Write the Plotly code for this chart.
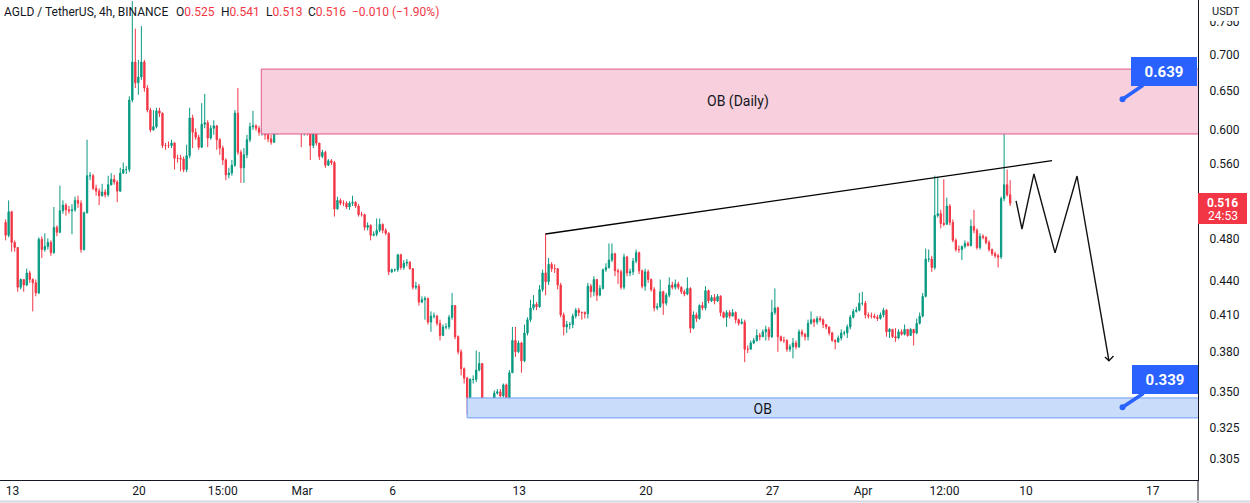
import numpy as np
import pandas as pd
import plotly.graph_objects as go

# ---------------- data (AGLD/USDT 4h) ----------------
first_open = 0.496
closes = [
    .483, .507, .476, .471, .434, .441, .436, .447, .441, .438,
    .429, .479, .469, .472, .476, .466, .491, .486, .508, .514,
    .509, .508, .509, .519, .516, .469, .506, .546, .546, .532,
    .529, .524, .528, .525, .536, .542, .539, .529, .549, .553,
    .553, .638, .690, .661, .669, .690, .654, .625, .600, .604,
    .624, .621, .581, .581, .581, .584, .566, .566, .565, .553,
    .569, .615, .597, .591, .579, .607, .609, .590, .602, .605,
    .588, .578, .564, .547, .549, .558, .621, .573, .555, .570,
    .588, .604, .605, .602, .597, .600, .594, .589, .585, .596,
    .604, .638, .647, .647, .645, .622, .619, .606, .597, .600,
    .596, .581, .595, .584,
    .568, .573, .558, .563, .561, .510, .519, .516, .516, .512,
    .516, .517, .513, .504, .504, .491, .493, .483, .484, .488,
    .494, .488, .485, .448, .450, .450, .464, .452, .456, .457,
    .451, .434, .435, .421, .423, .424, .404, .409, .409, .403,
    .393, .400, .400, .408, .418, .392, .380, .367, .360, .346,
    .359, .359, .366, .371, .342, .343, .334, .343, .349, .350,
    .347, .355, .346, .364, .389, .380, .387, .373, .395, .406,
    .416, .419, .417, .432, .447, .439, .455, .451, .451, .436,
    .410, .400, .402, .402, .409, .414, .412, .412, .411, .435,
    .430, .441, .427,
    .433, .450, .452, .459, .465, .449, .448, .434, .462, .447,
    .448, .458, .466, .449, .435, .448, .441, .432, .416, .417,
    .430, .420, .427, .436, .434, .437, .434, .430, .428, .433,
    .399, .410, .407, .418, .416, .431, .422, .425, .422, .426,
    .412, .408, .412, .409, .412, .406, .403, .404, .382, .382,
    .387, .389, .393, .392, .396, .398, .392, .412, .416, .392,
    .389, .389, .382, .384, .387, .384, .396, .394, .392, .403,
    .406, .404, .407, .406, .402, .400,
    .395, .389, .388, .391, .395, .395, .400, .408, .413, .414,
    .420, .420, .410, .409, .409, .408, .407, .410, .414, .396,
    .398, .392, .391, .396, .394, .398, .393, .398, .395, .403,
    .409, .426, .460, .460, .452, .503, .505, .495, .494, .513,
    .496, .478, .469, .469, .472, .475, .473, .492, .488, .471,
    .482, .481, .476, .469, .465, .463, .462, .521, .536, .525,
    .516,
]
highs = [
    .499, .519, .508, .478, .471, .442, .441, .451, .449, .442,
    .441, .481, .482, .485, .480, .478, .512, .493, .535, .519,
    .516, .513, .515, .523, .524, .519, .507, .588, .550, .548,
    .536, .532, .537, .531, .546, .549, .547, .541, .555, .561,
    .557, .643, .782, .739, .693, .743, .693, .658, .628, .625,
    .628, .628, .622, .584, .586, .588, .585, .570, .570, .568,
    .582, .628, .619, .602, .594, .634, .646, .612, .606, .612,
    .606, .590, .581, .566, .555, .564, .625, .654, .576, .578,
    .594, .609, .624, .607, .605, .604, .602, .596, .594, .600,
    .607, .645, .680, .654, .651, .645, .625, .622, .607, .602,
    .602, .599, .600, .597,
    .584, .576, .575, .565, .565, .563, .523, .521, .519, .518,
    .518, .524, .518, .515, .507, .505, .496, .494, .487, .500,
    .500, .495, .490, .486, .451, .451, .465, .465, .459, .460,
    .458, .451, .439, .437, .426, .426, .425, .413, .412, .410,
    .406, .402, .403, .410, .429, .418, .393, .382, .368, .361,
    .360, .362, .381, .380, .371, .344, .344, .344, .351, .352,
    .352, .356, .356, .366, .400, .400, .389, .388, .402, .408,
    .423, .427, .421, .436, .450, .485, .461, .457, .455, .451,
    .438, .412, .405, .404, .411, .416, .416, .413, .413, .438,
    .437, .444, .441,
    .436, .451, .456, .475, .475, .466, .451, .450, .465, .463,
    .451, .461, .469, .467, .450, .451, .450, .442, .434, .420,
    .441, .431, .429, .443, .439, .441, .439, .435, .432, .443,
    .434, .413, .412, .419, .421, .435, .432, .427, .428, .428,
    .427, .413, .414, .414, .415, .413, .407, .407, .406, .385,
    .389, .391, .398, .395, .398, .401, .400, .423, .433, .417,
    .393, .392, .390, .386, .391, .389, .398, .398, .395, .406,
    .413, .407, .409, .409, .407, .402,
    .400, .396, .390, .393, .398, .397, .402, .410, .415, .417,
    .429, .430, .422, .412, .412, .411, .410, .412, .416, .415,
    .399, .398, .399, .398, .398, .402, .398, .399, .398, .407,
    .412, .429, .470, .469, .463, .546, .545, .509, .542, .522,
    .515, .499, .480, .473, .473, .478, .477, .499, .509, .490,
    .485, .484, .482, .478, .470, .467, .465, .523, .599, .553,
    .541,
]
lows = [
    .478, .481, .467, .467, .430, .432, .430, .435, .438, .413,
    .426, .428, .461, .467, .469, .463, .465, .482, .485, .505,
    .503, .505, .484, .507, .511, .466, .468, .505, .541, .530,
    .524, .514, .523, .522, .523, .535, .536, .517, .528, .548,
    .548, .550, .635, .654, .645, .665, .649, .622, .597, .599,
    .602, .616, .578, .576, .578, .578, .553, .561, .551, .550,
    .550, .566, .578, .588, .576, .578, .602, .579, .588, .594,
    .576, .570, .558, .541, .543, .546, .556, .570, .538, .538,
    .566, .585, .600, .599, .593, .593, .588, .585, .582, .584,
    .594, .600, .638, .642, .635, .619, .615, .602, .579, .593,
    .593, .564, .578, .581,
    .564, .566, .555, .557, .558, .502, .509, .514, .513, .510,
    .509, .513, .511, .502, .502, .488, .488, .478, .482, .482,
    .486, .485, .483, .445, .447, .448, .448, .450, .450, .453,
    .450, .432, .432, .418, .420, .406, .402, .396, .407, .401,
    .389, .393, .398, .398, .406, .390, .378, .362, .356, .334,
    .346, .356, .357, .365, .341, .341, .332, .332, .341, .348,
    .346, .346, .344, .345, .364, .376, .379, .364, .372, .393,
    .404, .414, .414, .416, .430, .427, .436, .448, .447, .432,
    .408, .393, .395, .398, .399, .407, .409, .406, .407, .407,
    .425, .426, .422,
    .426, .432, .448, .451, .457, .444, .437, .432, .432, .444,
    .444, .445, .456, .446, .433, .431, .438, .430, .413, .414,
    .416, .410, .418, .425, .432, .432, .432, .428, .426, .427,
    .395, .398, .404, .406, .414, .414, .420, .421, .419, .421,
    .409, .407, .400, .407, .409, .403, .401, .402, .372, .379,
    .382, .386, .388, .389, .392, .389, .389, .391, .410, .380,
    .388, .387, .380, .380, .375, .382, .383, .392, .389, .389,
    .402, .400, .402, .404, .399, .398,
    .393, .388, .382, .387, .389, .393, .391, .398, .407, .412,
    .413, .418, .407, .407, .407, .407, .405, .406, .408, .392,
    .391, .391, .388, .390, .393, .393, .392, .393, .385, .394,
    .402, .408, .425, .457, .448, .450, .501, .490, .492, .494,
    .493, .476, .467, .466, .459, .470, .472, .472, .485, .469,
    .469, .479, .474, .467, .463, .461, .452, .460, .518, .523,
    .513,
]
opens = [first_open] + closes[:-1]
last_bar_time = "2023-04-09 03:00"

# order-block zones
ob_daily_start = "2023-02-26 18:00"
ob_daily_low, ob_daily_high = 0.595, 0.680
ob_start = "2023-03-10 03:00"
ob_low, ob_high = 0.3317, 0.3456
zone_end = "2023-04-25"

# trend line (rising resistance)
trend_times = ["2023-03-14 11:00", "2023-04-11 10:30"]
trend_prices = [0.4843, 0.5632]

# projected zigzag path
zig_times = ["2023-04-09 10:50", "2023-04-09 18:40", "2023-04-10 10:30",
             "2023-04-11 14:30", "2023-04-12 19:40", "2023-04-14 14:00"]
zig_prices = [0.5184, 0.4893, 0.5480, 0.4658, 0.5457, 0.3730]
arrow_times = ["2023-04-14 08:40", "2023-04-14 14:00", "2023-04-14 20:00"]
arrow_prices = [0.3760, 0.3730, 0.3768]

# price callouts
callout_time = "2023-04-15 08:00"
callout_prices = [0.639, 0.339]
callout_labels = ["0.639", "0.339"]

# axis ticks
tick_dates = ["2023-02-13", "2023-02-20", "2023-02-24 15:00", "2023-03-01",
              "2023-03-06", "2023-03-13", "2023-03-20", "2023-03-27",
              "2023-04-01", "2023-04-05 12:00", "2023-04-10", "2023-04-17"]
tick_text = ["13", "20", "15:00", "Mar", "6", "13", "20", "27", "Apr",
             "12:00", "10", "17"]
ytick_vals = [0.305, 0.325, 0.350, 0.380, 0.410, 0.440, 0.480, 0.560,
              0.600, 0.650, 0.700, 0.750]
ytick_text = [f"{v:.3f}" for v in ytick_vals]

# ---------------- layout geometry ----------------
W, H = 1250, 503
M_L, M_R, M_T, M_B = 0, 52, 0, 23
PW, PH = W - M_L - M_R, H - M_T - M_B
anchor = pd.Timestamp("2023-03-01")
anchor_px = 302.0
px_per_day = 18.1


def px_time(px):
    return anchor + pd.Timedelta(days=(px - anchor_px) / px_per_day)


def pxx(px):
    return px / PW


def pxy(py):
    return 1 - py / PH


x_range = [px_time(0), px_time(PW)]
y_range = [np.log10(0.2919), np.log10(0.7839)]

UP, DOWN, TXT = "#089981", "#F23645", "#131722"
FONT = "Roboto"

times = pd.date_range(end=last_bar_time, periods=len(closes), freq="4h")

fig = go.Figure()

# zones
for t0, lo, hi, fill, line in [
    (ob_daily_start, ob_daily_low, ob_daily_high, "#F8CFDD", "#E0588A"),
    (ob_start, ob_low, ob_high, "#C9DCFA", "#6C9EF5"),
]:
    fig.add_trace(go.Scatter(
        x=[t0, zone_end, zone_end, t0, t0], y=[lo, lo, hi, hi, lo],
        mode="lines", fill="toself", fillcolor=fill,
        line=dict(color=line, width=1), hoverinfo="skip", showlegend=False))

fig.add_trace(go.Scatter(
    x=["2023-03-25 02:00", "2023-03-26 11:00"], y=[0.6350, 0.3370],
    mode="text", text=["OB (Daily)", "OB"],
    textfont=dict(family=FONT, size=14, color=TXT),
    hoverinfo="skip", showlegend=False))

# candles
fig.add_trace(go.Candlestick(
    x=times, open=opens, high=highs, low=lows, close=closes,
    increasing=dict(line=dict(color=UP, width=1), fillcolor=UP),
    decreasing=dict(line=dict(color=DOWN, width=1), fillcolor=DOWN),
    whiskerwidth=0, showlegend=False, hoverinfo="skip"))

# trend line & zigzag
fig.add_trace(go.Scatter(x=trend_times, y=trend_prices, mode="lines",
                         line=dict(color="#000000", width=1.4),
                         hoverinfo="skip", showlegend=False))
fig.add_trace(go.Scatter(x=zig_times, y=zig_prices, mode="lines",
                         line=dict(color="#111111", width=1.4),
                         hoverinfo="skip", showlegend=False))
fig.add_trace(go.Scatter(x=arrow_times, y=arrow_prices, mode="lines",
                         line=dict(color="#111111", width=1.4),
                         hoverinfo="skip", showlegend=False))

# callout dots
fig.add_trace(go.Scatter(x=[callout_time] * 2, y=callout_prices, mode="markers",
                         marker=dict(color="#2962FF", size=6),
                         hoverinfo="skip", showlegend=False))

annotations = []
for p, lab, ax in zip(callout_prices, callout_labels, [41, 42]):
    annotations.append(dict(
        x=pd.Timestamp(callout_time), y=np.log10(p), xref="x", yref="y",
        text=f"<b>{lab}</b>", showarrow=True, arrowhead=0, arrowwidth=3.5,
        arrowcolor="#2962FF", ax=ax, ay=-28, standoff=0,
        bgcolor="#2962FF", bordercolor="#2962FF", borderwidth=1, borderpad=4,
        width=56, height=19,
        font=dict(family=FONT, size=15, color="white")))

# header
hdr = [
    (2, "AGLD / TetherUS, 4h, BINANCE"),
    (174, f"O<span style='color:{DOWN}'>0.525</span>"),
    (219, f"H<span style='color:{DOWN}'>0.541</span>"),
    (264, f"L<span style='color:{DOWN}'>0.513</span>"),
    (306, f"C<span style='color:{DOWN}'>0.516</span>"),
    (350, f"<span style='color:{DOWN}'>\u22120.010 (\u22121.90%)</span>"),
]
for xp, t in hdr:
    annotations.append(dict(x=pxx(xp), y=pxy(12.5), xref="paper", yref="paper",
                            xanchor="left", yanchor="middle", showarrow=False,
                            text=t, font=dict(family=FONT, size=12, color=TXT)))

# right axis extras
annotations.append(dict(x=pxx(1210), y=pxy(11), xref="paper", yref="paper",
                        xanchor="left", yanchor="middle", showarrow=False,
                        text="USDT", font=dict(family=FONT, size=11, color=TXT)))
annotations.append(dict(x=pxx(1222.5), y=pxy(202.5), xref="paper", yref="paper",
                        xanchor="center", yanchor="middle", showarrow=False,
                        text="<b>0.516</b>",
                        font=dict(family=FONT, size=12, color="white")))
annotations.append(dict(x=pxx(1222.5), y=pxy(216), xref="paper", yref="paper",
                        xanchor="center", yanchor="middle", showarrow=False,
                        text="24:53", font=dict(family=FONT, size=12, color="white")))

shapes = [
    dict(type="rect", xref="paper", yref="paper", x0=pxx(1199), x1=pxx(1250),
         y0=pxy(0), y1=pxy(21), fillcolor="white", line=dict(width=0), layer="above"),
    dict(type="rect", xref="paper", yref="paper", x0=pxx(1198), x1=pxx(1247),
         y0=pxy(193), y1=pxy(224), fillcolor=DOWN, line=dict(width=0), layer="above"),
    dict(type="line", xref="paper", yref="paper", x0=1, x1=1,
         y0=pxy(480), y1=pxy(503), line=dict(color=TXT, width=1)),
    dict(type="line", xref="paper", yref="paper", x0=0, x1=pxx(1250),
         y0=pxy(501.5), y1=pxy(501.5), line=dict(color="#D6D8DE", width=2)),
]

fig.update_layout(
    width=W, height=H, margin=dict(l=M_L, r=M_R, t=M_T, b=M_B, pad=0),
    paper_bgcolor="white", plot_bgcolor="white", showlegend=False,
    boxgap=0.38,
    annotations=annotations, shapes=shapes,
    xaxis=dict(type="date", range=x_range, rangeslider=dict(visible=False),
               showgrid=False, zeroline=False, showline=True,
               linecolor=TXT, linewidth=1, mirror=False,
               tickvals=tick_dates, ticktext=tick_text, ticks="",
               tickfont=dict(family=FONT, size=12, color=TXT)),
    yaxis=dict(type="log", range=y_range, side="right", showgrid=False,
               zeroline=False, showline=True, linecolor=TXT, linewidth=1,
               tickvals=ytick_vals, ticktext=ytick_text,
               ticks="outside", ticklen=8, tickcolor="rgba(0,0,0,0)",
               tickfont=dict(family=FONT, size=12, color=TXT)),
)

fig.write_html("out.html")
